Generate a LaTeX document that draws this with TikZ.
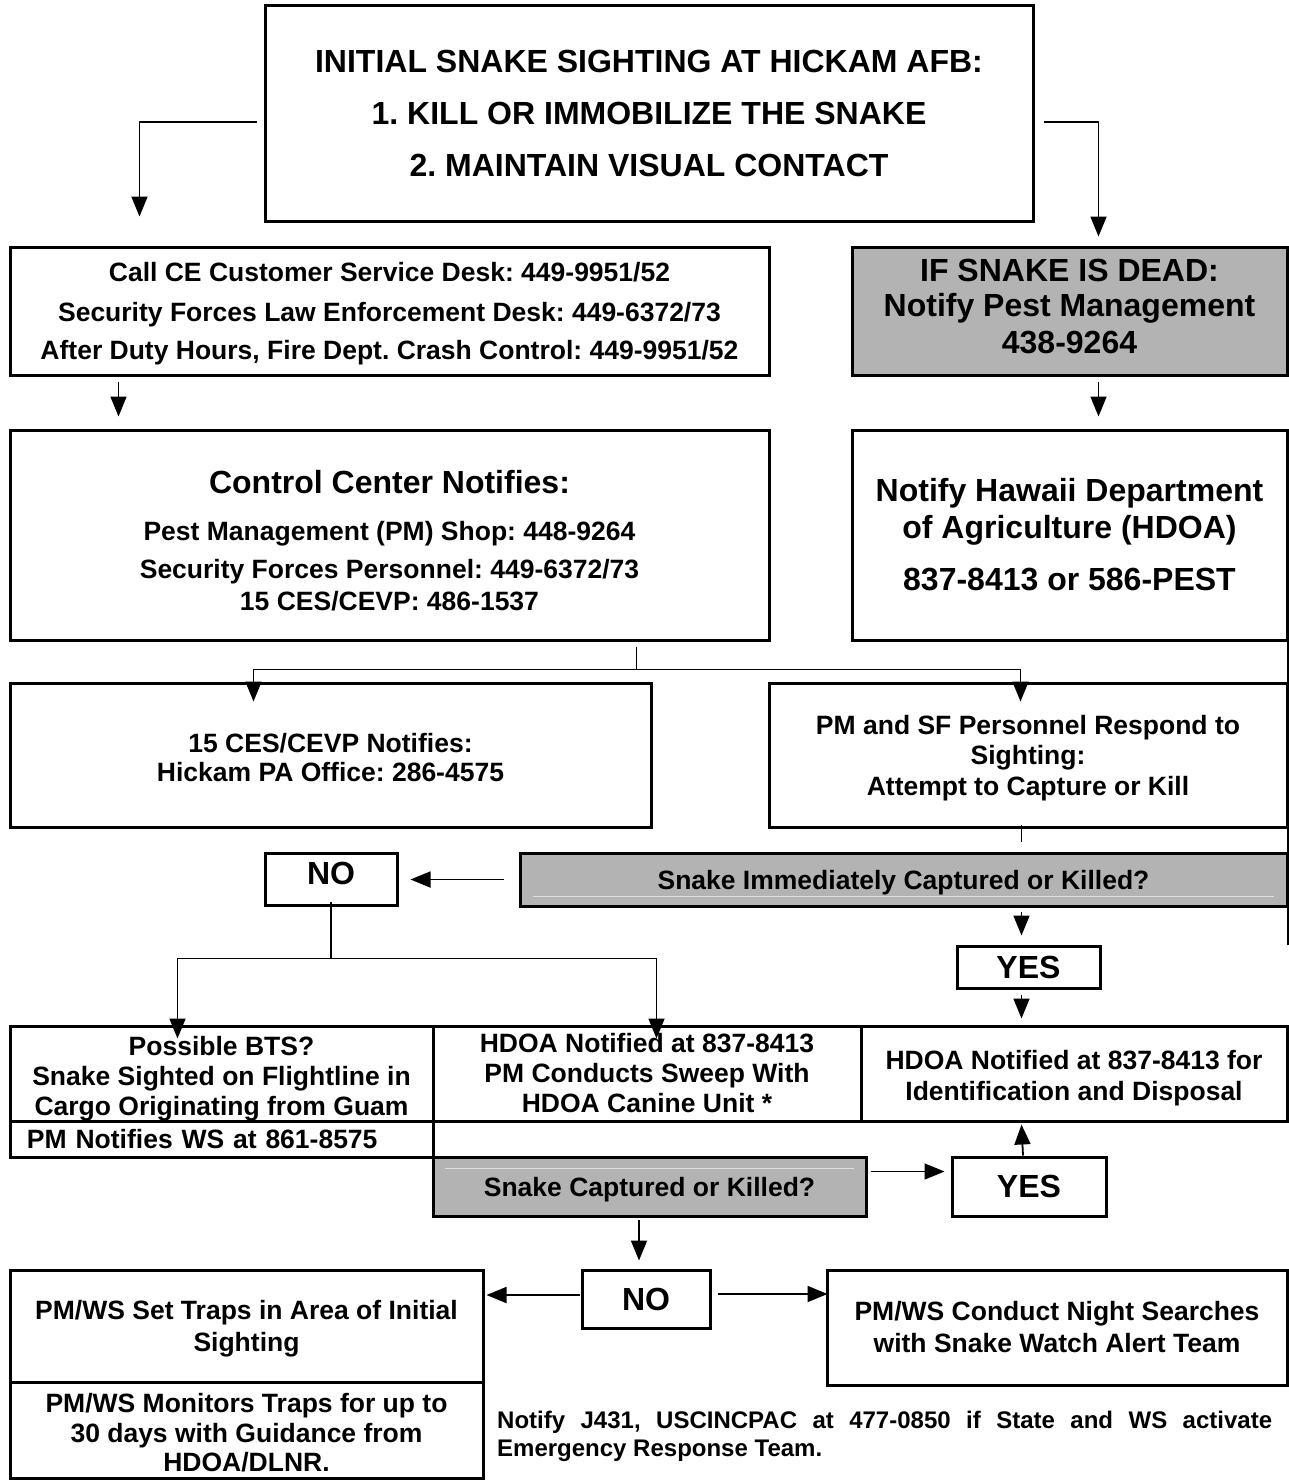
\documentclass[tikz,border=0pt]{standalone}
\usepackage{fontspec}
\setmainfont{Liberation Sans}
\usetikzlibrary{positioning,arrows.meta}
\frenchspacing

\definecolor{boxgray}{HTML}{B3B3B3}
\newcommand\fbig{\fontsize{32}{36}\selectfont\bfseries}
\newcommand\fmid{\fontsize{26.5}{31}\selectfont\bfseries}
\newcommand\fnote{\fontsize{24}{28}\selectfont\bfseries}
% invisible struts that nudge box text up or down
\newcommand\lift[1]{\rule[-#1]{0pt}{#1}}
\newcommand\sink[1]{\rule{0pt}{#1}}

\tikzset{
  box/.style={draw, line width=3pt, inner sep=0pt, align=center, font=\fmid},
  greybox/.style={box, fill=boxgray},
  boxsize/.style 2 args={minimum width=#1, minimum height=#2},
  conn/.style={line width=1.8pt},
  arr/.style={conn, -{Triangle[length=20pt,width=16pt]}},
  shine/.style={line width=1pt, gray!25}
}

\begin{document}
\begin{tikzpicture}[x=1pt, y=-1pt]
\useasboundingbox (0,0) rectangle (1289,1480);

\node[box, font=\fbig, boxsize={768}{215}] (sight) at (649,113.5) {INITIAL SNAKE SIGHTING AT HICKAM AFB:\\[16pt] 1. KILL OR IMMOBILIZE THE SNAKE\\[16pt] 2. MAINTAIN VISUAL CONTACT};

\node[box, boxsize={759}{128}] (call) at (389.5,311) {\sink{24.6pt}Call CE Customer Service Desk: 449-9951/52\\[9pt] Security Forces Law Enforcement Desk: 449-6372/73\\[7pt] After Duty Hours, Fire Dept. Crash Control: 449-9951/52};
\node[greybox, font=\fbig, boxsize={435}{128}] (dead) at (1069.5,311) {IF SNAKE IS DEAD:\\[-1pt] Notify Pest Management\\[1pt] 438-9264\lift{10pt}};

\node[box, boxsize={759}{210}] (ctrl) at (389.5,535) {{\fbig Control Center Notifies:}\sink{34.5pt}\\[16pt] Pest Management (PM) Shop: 448-9264\\[7pt] Security Forces Personnel: 449-6372/73\\[1pt] 15 CES/CEVP: 486-1537};
\node[box, font=\fbig, boxsize={435}{210}] (hdoa) at (1069.5,535) {Notify Hawaii Department\\[1pt] of Agriculture (HDOA)\\[16pt] 837-8413 or 586-PEST};

\node[box, boxsize={641}{144}] (ces) at (330.5,755) {\sink{23.3pt}15 CES/CEVP Notifies:\\[-2pt] Hickam PA Office: 286-4575};
\node[box, boxsize={518}{144}] (resp) at (1028,755) {\sink{25.6pt}PM and SF Personnel Respond to\\[-1pt] Sighting:\\ Attempt to Capture or Kill};

\node[greybox, text depth=0pt, boxsize={767}{53}] (imm) at (903.5,879.5) {Snake Immediately Captured or Killed?};
\node[box, font=\fbig, text depth=12pt, boxsize={132}{52}] (no1) at (331,879) {NO};
\node[box, font=\fbig, boxsize={143}{42}] (yes1) at (1028.5,967) {YES};

\node[box, boxsize={423}{95}] (bts) at (221.5,1073.5) {\sink{28.6pt}Possible BTS?\\[-1pt] Snake Sighted on Flightline in\\[-1pt] Cargo Originating from Guam};
\node[box, boxsize={428}{95}] (sweep) at (647,1073.5) {HDOA Notified at 837-8413\\[-1pt] PM Conducts Sweep With\\[-1pt] HDOA Canine Unit *};
\node[box, boxsize={426}{95}] (disp) at (1074,1073.5) {\sink{28.6pt}HDOA Notified at 837-8413 for\\ Identification and Disposal};
\node[box, text width=389pt, align=left, text depth=0pt, boxsize={423}{36}] (ws) at (221.5,1139) {PM Notifies WS at 861-8575};

\node[greybox, text depth=0pt, boxsize={433}{59}] (capt) at (649.5,1186.5) {Snake Captured or Killed?};
\node[box, font=\fbig, boxsize={154}{59}] (yes2) at (1029,1186.5) {YES};
\node[box, font=\fbig, boxsize={128}{58}] (no2) at (646,1299) {NO};

\node[box, boxsize={473}{112}] (traps) at (246.5,1326) {\sink{24.6pt}PM/WS Set Traps in Area of Initial\\[1pt] Sighting};
\node[box, boxsize={473}{96}] (mon) at (246.5,1430) {\sink{25.3pt}PM/WS Monitors Traps for up to\\[-1pt] 30 days with Guidance from\\[-2pt] HDOA/DLNR.};
\node[box, boxsize={460}{115}] (night) at (1057,1327.5) {PM/WS Conduct Night Searches\\[1pt] with Snake Watch Alert Team};
\node[font=\fnote, text width=775pt, align=justify, inner sep=0pt, anchor=north west] (note) at (497,1411) {Notify J431, USCINCPAC at 477-0850 if State and WS activate\linebreak Emergency Response Team.};

\draw[shine] ([shift={(14,-11)}]imm.south west) -- ([shift={(-15,-11)}]imm.south east);
\draw[shine] ([shift={(13,13)}]capt.north west) -- ([shift={(-14,13)}]capt.north east);

\draw[arr] ([shift={(-7,8.5)}]sight.west) -| ([shift={(131,-29)}]call.north west);
\draw[arr] ([shift={(9,8.5)}]sight.east) -| ([shift={(248,-9)}]dead.north west);
\draw[arr] ([shift={(110,5)}]call.south west) -- ([shift={(110,-12)}]ctrl.north west);
\draw[arr] ([shift={(248,5)}]dead.south west) -- ([shift={(248,-12)}]hdoa.north west);
\draw[line width=3pt] (hdoa.south east) -- ++(0,303) coordinate (edge);

\draw[conn] ([shift={(628,5)}]ctrl.south west) -- ++(0,23) coordinate (split);
\draw[arr] (split) -| ([shift={(245,20)}]ces.north west);
\draw[arr] (split) -| ([shift={(253,20)}]resp.north west);

\draw[conn] ([shift={(254,-4)}]resp.south west) -- ([shift={(503,-10)}]imm.north west);
\draw[arr] ([xshift=-15pt]imm.west) -- ([xshift=12pt]no1.east |- imm.west);
\draw[arr] ([shift={(503,4)}]imm.south west) -- ([shift={(66,-9)}]yes1.north west);
\draw[arr] ([shift={(66,5)}]yes1.south west) -- ([shift={(162,-6)}]disp.north west);

\draw[conn] ([yshift=5pt]no1.south) -- ++(0,57) coordinate (fork);
\draw[arr] (fork) -| ([shift={(169,14)}]bts.north west);
\draw[arr] (fork) -| ([shift={(225,14)}]sweep.north west);

\draw[arr] ([shift={(3,16)}]capt.north east) -- ([shift={(-6,16)}]yes2.north west);
\draw[arr] ([xshift=-6pt]yes2.north) -- ([shift={(162,2)}]disp.south west);
\draw[arr] ([shift={(-10.5,2)}]capt.south) -- ([shift={(-7,-8)}]no2.north);
\draw[arr] ([shift={(-1,-4)}]no2.west) -- ([shift={(2,-4)}]no2.west -| traps.east);
\draw[arr] ([shift={(6,-5)}]no2.east) -- ([shift={(2,-5)}]no2.east -| night.west);
\end{tikzpicture}
\end{document}
